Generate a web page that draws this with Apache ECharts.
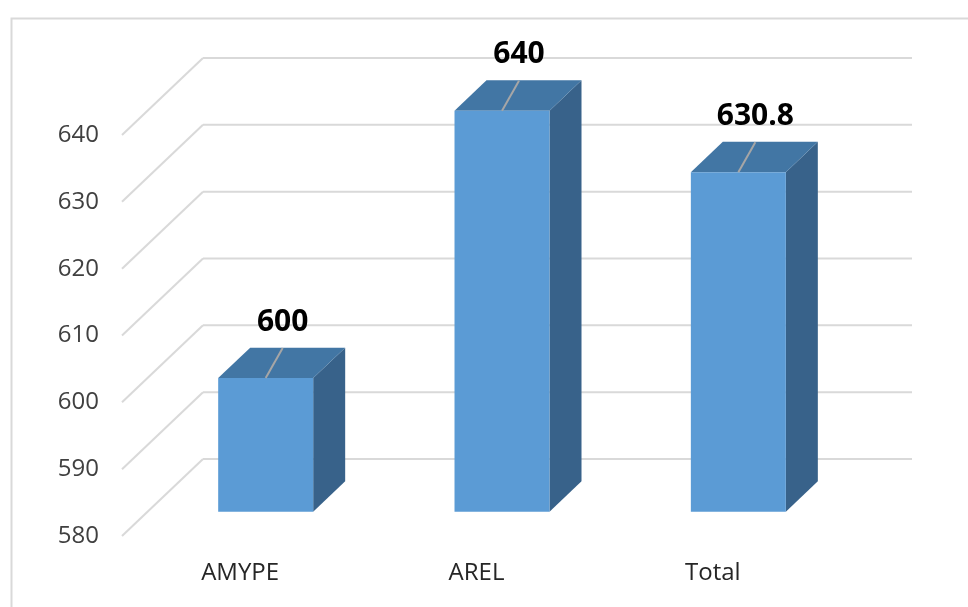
<!DOCTYPE html>
<html>
<head>
<meta charset="utf-8">
<script src="https://cdn.jsdelivr.net/npm/echarts@6/dist/echarts.min.js"></script>
<style>
  html, body { margin: 0; padding: 0; background: #ffffff; }
  #chart { width: 968px; height: 607px; }
</style>
</head>
<body>
<div id="chart"></div>
<script>
// Chart data
const categories = ['AMYPE', 'AREL', 'Total'];
const values = [600, 640, 630.8];
const tickValues = [580, 590, 600, 610, 620, 630, 640];

// Pseudo-3D geometry (pixels)
const DEPTH_DX = 81;     // horizontal shift from front plane to back wall
const DEPTH_DY = -77;    // vertical shift from front plane to back wall
const BAR_FRONT = 0.315; // depth fraction where bar front face sits
const BAR_BACK = 0.71;   // depth fraction where bar back face sits
const BAR_WIDTH = 95;

const FONT = "'Liberation Sans Narrow', 'Open Sans', sans-serif";
const GRID_COLOR = '#d9d9d9';

const chart = echarts.init(document.getElementById('chart'));

function renderGrid(params, api) {
  const cs = params.coordSys;
  const v = api.value(1);
  const y = api.coord([0, v])[1];
  const left = cs.x;
  const right = cs.x + cs.width;
  const style = { stroke: GRID_COLOR, lineWidth: 2 };
  return {
    type: 'group',
    children: [
      { type: 'line', shape: { x1: left, y1: y, x2: left + DEPTH_DX, y2: y + DEPTH_DY }, style: style },
      { type: 'line', shape: { x1: left + DEPTH_DX, y1: y + DEPTH_DY, x2: right + DEPTH_DX, y2: y + DEPTH_DY }, style: style }
    ]
  };
}

function renderBar(params, api) {
  const idx = api.value(0);
  const val = api.value(1);
  const top = api.coord([idx, val]);
  const base = api.coord([idx, tickValues[0]]);
  const fx = BAR_FRONT * DEPTH_DX, fy = BAR_FRONT * DEPTH_DY;
  const bx = BAR_BACK * DEPTH_DX, by = BAR_BACK * DEPTH_DY;
  const x0 = top[0] - BAR_WIDTH / 2 + fx;
  const x1 = top[0] + BAR_WIDTH / 2 + fx;
  const yt = top[1] + fy;
  const yb = base[1] + fy;
  const ddx = bx - fx, ddy = by - fy;
  const mx = (x0 + x1) / 2;
  return {
    type: 'group',
    children: [
      { type: 'polygon', shape: { points: [[x1, yt], [x1 + ddx, yt + ddy], [x1 + ddx, yb + ddy], [x1, yb]] },
        style: { fill: '#38628a' } },
      { type: 'polygon', shape: { points: [[x0, yt], [x0 + ddx, yt + ddy], [x1 + ddx, yt + ddy], [x1, yt]] },
        style: { fill: '#4276a4' } },
      { type: 'rect', shape: { x: x0, y: yt, width: x1 - x0, height: yb - yt },
        style: { fill: '#5b9bd5' } },
      { type: 'line', shape: { x1: mx, y1: yt, x2: mx + 17, y2: yt - 30 },
        style: { stroke: '#a6a6a6', lineWidth: 2 } },
      { type: 'text', x: mx + 17, y: yt - 56,
        style: { text: String(val), fill: '#000000', font: 'bold 30px ' + FONT,
                 align: 'center', verticalAlign: 'middle' } }
    ]
  };
}

chart.setOption({
  animation: false,
  backgroundColor: '#ffffff',
  graphic: [{
    type: 'rect', left: 9, top: 16, z: -10,
    shape: { width: 980, height: 620 },
    style: { fill: 'none', stroke: GRID_COLOR, lineWidth: 2 }
  }],
  grid: { left: 122, right: 137, top: 135, bottom: 71 },
  xAxis: {
    type: 'category',
    data: categories,
    axisLine: { show: false },
    axisTick: { show: false },
    axisLabel: { fontSize: 24, color: '#262626', margin: 25, fontFamily: FONT }
  },
  yAxis: {
    type: 'value',
    min: 580, max: 640, interval: 10,
    axisLine: { show: false },
    axisTick: { show: false },
    splitLine: { show: false },
    axisLabel: { fontSize: 24, color: '#404040', margin: 23, fontFamily: FONT }
  },
  series: [
    {
      type: 'custom',
      renderItem: renderGrid,
      data: tickValues.map(function (v) { return [0, v]; }),
      silent: true,
      z: 1
    },
    {
      type: 'custom',
      renderItem: renderBar,
      data: values.map(function (v, i) { return [i, v]; }),
      z: 2
    }
  ]
});
</script>
</body>
</html>
